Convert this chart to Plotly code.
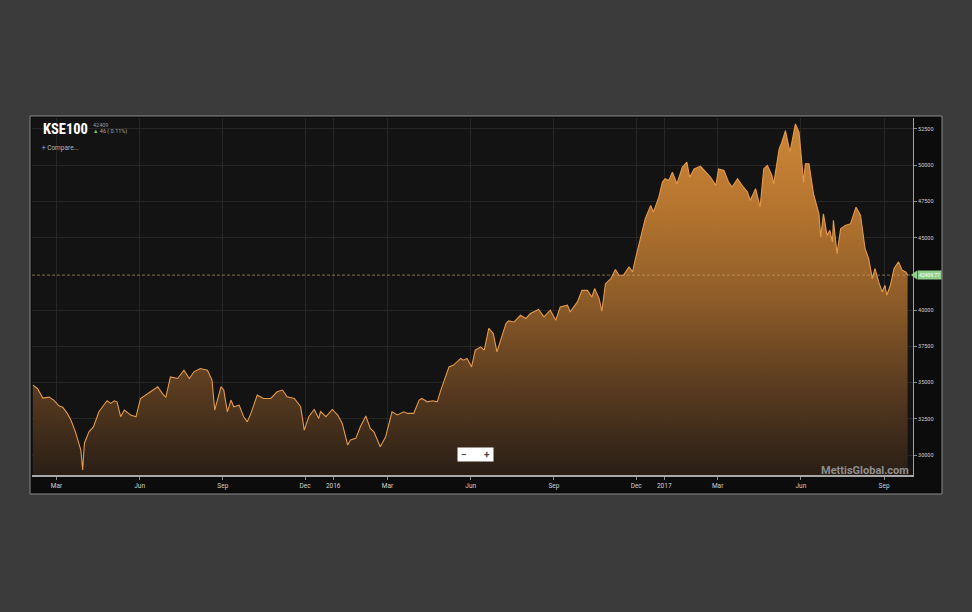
import plotly.graph_objects as go

# ---------------- data ----------------
dates_2015 = ["2015-02-03","2015-02-08","2015-02-14","2015-02-21","2015-02-26",
              "2015-03-04","2015-03-08","2015-03-13","2015-03-17","2015-03-22","2015-03-28","2015-03-30",
              "2015-04-01","2015-04-06","2015-04-11","2015-04-17","2015-04-21","2015-04-26","2015-04-30",
              "2015-05-04","2015-05-07","2015-05-11","2015-05-15","2015-05-22","2015-05-28",
              "2015-06-02","2015-06-13","2015-06-21","2015-06-26","2015-06-30",
              "2015-07-05","2015-07-13","2015-07-20","2015-07-26","2015-07-31",
              "2015-08-07","2015-08-15","2015-08-20","2015-08-23","2015-08-30",
              "2015-09-02","2015-09-06","2015-09-10","2015-09-13","2015-09-19","2015-09-24","2015-09-28",
              "2015-10-02","2015-10-09","2015-10-16","2015-10-24","2015-10-31",
              "2015-11-06","2015-11-11","2015-11-19","2015-11-26","2015-11-30",
              "2015-12-05","2015-12-11","2015-12-16","2015-12-18","2015-12-24","2015-12-31"]
close_2015 = [34820, 34590, 33930, 33990, 33790,
              33380, 33290, 32870, 32410, 31600, 30340, 28970,
              30830, 31600, 31950, 32980, 33330, 33740, 33560,
              33740, 33670, 32640, 33100, 32760, 32640,
              33900, 34360, 34710, 34250, 33970,
              35390, 35280, 35850, 35280, 35740,
              35970, 35850, 35170, 33100, 34710,
              34480, 32980, 33790, 33330, 33440, 32640, 32290,
              32870, 34130, 33900, 33900, 34360,
              34480, 34020, 33900, 33330, 31720,
              32640, 33140, 32520, 33000, 32640, 33140]

dates_2016 = ["2016-01-06","2016-01-11","2016-01-17","2016-01-20","2016-01-26","2016-01-31",
              "2016-02-06","2016-02-11","2016-02-15","2016-02-22","2016-02-28",
              "2016-03-06","2016-03-12","2016-03-19","2016-03-23","2016-03-30",
              "2016-04-05","2016-04-08","2016-04-14","2016-04-20","2016-04-25","2016-04-29",
              "2016-05-04","2016-05-08","2016-05-13","2016-05-21","2016-05-24","2016-05-28",
              "2016-06-02","2016-06-06","2016-06-12","2016-06-16","2016-06-21","2016-06-26","2016-06-30",
              "2016-07-04","2016-07-10","2016-07-13","2016-07-19","2016-07-26",
              "2016-08-01","2016-08-06","2016-08-15","2016-08-21","2016-08-28",
              "2016-09-03","2016-09-08","2016-09-16","2016-09-19","2016-09-27",
              "2016-10-02","2016-10-08","2016-10-13","2016-10-16","2016-10-21","2016-10-24","2016-10-28",
              "2016-11-03","2016-11-08","2016-11-12","2016-11-17","2016-11-23","2016-11-27","2016-11-30",
              "2016-12-06","2016-12-11","2016-12-17","2016-12-20","2016-12-26","2016-12-30"]
close_2016 = [32760, 32180, 30690, 31030, 31150, 31950,
              32690, 31840, 31600, 30570, 31260,
              32980, 32760, 32980, 32870, 32870,
              33790, 33900, 33670, 33740, 33670, 34480,
              35390, 36080, 36200, 36660, 36540, 36660,
              36080, 37230, 37460, 37230, 38730, 38380, 37120,
              37920, 39070, 39250, 39180, 39640,
              39420, 39760, 40040, 39530, 39990,
              39300, 40210, 40330, 39870, 40560,
              41360, 41360, 40900, 41480, 40790, 39920, 41820,
              42170, 42800, 42400, 42420, 42970, 42630, 43500,
              45150, 46300, 47220, 46760, 47790, 48830]

dates_2017 = ["2017-01-02","2017-01-06","2017-01-10","2017-01-15","2017-01-21","2017-01-26","2017-01-29",
              "2017-02-03","2017-02-10","2017-02-16","2017-02-21","2017-02-27",
              "2017-03-02","2017-03-08","2017-03-13","2017-03-17","2017-03-23","2017-03-28",
              "2017-04-03","2017-04-06","2017-04-12","2017-04-17","2017-04-21","2017-04-25","2017-04-30",
              "2017-05-02","2017-05-08","2017-05-11","2017-05-15","2017-05-20","2017-05-26","2017-05-30",
              "2017-06-04","2017-06-06","2017-06-10","2017-06-15","2017-06-21","2017-06-23","2017-06-26","2017-06-30",
              "2017-07-03","2017-07-06","2017-07-07","2017-07-11","2017-07-15","2017-07-20","2017-07-26",
              "2017-08-01","2017-08-06","2017-08-11","2017-08-15","2017-08-19","2017-08-22","2017-08-26","2017-08-30",
              "2017-09-02","2017-09-04","2017-09-08","2017-09-12","2017-09-17","2017-09-21","2017-09-25","2017-09-27"]
close_2017 = [49060, 48940, 49510, 48710, 49860, 50200, 49170,
              49740, 49920, 49510, 49170, 48600,
              49740, 49630, 48830, 48480, 49060, 48600,
              48140, 47560, 48370, 47100, 49740, 49970, 49280,
              48710, 51120, 51580, 52380, 50890, 52840, 52270,
              48830, 50090, 50090, 48020, 46640, 45040, 46640, 45150,
              45500, 44690, 46190, 43890, 45610, 45840, 45960,
              47100, 46530, 44230, 43550, 42170, 42860, 41940, 41250,
              41710, 41020, 41710, 42860, 43320, 42740, 42630, 42409.77]

x_tick_dates = ["2015-03-01","2015-06-01","2015-09-01","2015-12-01","2016-01-01",
                "2016-03-01","2016-06-01","2016-09-01","2016-12-01","2017-01-01",
                "2017-03-01","2017-06-01","2017-09-01"]
x_tick_labels = ["Mar","Jun","Sep","Dec","2016","Mar","Jun","Sep","Dec","2017","Mar","Jun","Sep"]
y_ticks = [30000, 32500, 35000, 37500, 40000, 45000, 47500, 50000, 52500]

index_name = "KSE100"
last_price = 42409.77
prev_label = "42409"
change_label = "46 ( 0.11%)"
watermark = "MettisGlobal.com"

dates = dates_2015 + dates_2016 + dates_2017
close = close_2015 + close_2016 + close_2017

# ---------------- layout helpers (pixel -> paper) ----------------
W, H = 972, 612
PL, PR, PT, PB = 32, 913, 118, 475
Y_MIN, Y_MAX = 28620, 53250
PAGE_BG = "#3b3b3b"


def px(x):
    return (x - PL) / (PR - PL)


def py(y):
    return (PB - y) / (PB - PT)


fig = go.Figure()
fig.add_trace(go.Scatter(
    x=dates, y=close, mode="lines",
    line=dict(color="#e39a4c", width=1.1),
    fill="tozeroy",
    fillgradient=dict(
        type="vertical",
        colorscale=[[0.0, "rgba(42,31,22,0.96)"], [0.25, "rgba(94,62,32,0.95)"],
                    [0.5, "rgba(150,97,42,0.95)"], [0.75, "rgba(188,121,48,0.96)"],
                    [1.0, "rgba(212,139,56,0.97)"]],
        start=Y_MIN, stop=Y_MAX),
    hoverinfo="skip",
))

shapes = [
    # outer chart frame
    dict(type="rect", xref="paper", yref="paper", x0=px(30), x1=px(942), y0=py(494), y1=py(116),
         fillcolor="#0c0c0c", line=dict(color="#8a8a8a", width=1), layer="below"),
    # plot area
    dict(type="rect", xref="paper", yref="paper", x0=0, x1=1, y0=0, y1=1,
         fillcolor="#131313", line=dict(width=0), layer="below"),
    # last price dashed line
    dict(type="line", xref="paper", yref="y", x0=0, x1=1, y0=last_price, y1=last_price,
         line=dict(color="rgba(205,170,125,0.6)", width=1, dash="3px,2px"), layer="above"),
    # price label arrow
    dict(type="path", xref="paper", yref="y", xsizemode="pixel", ysizemode="pixel",
         xanchor=px(911), yanchor=last_price, path="M 0,0 L 6,4.5 L 6,-4.5 Z",
         fillcolor="#8fcf8a", line=dict(width=0), layer="above"),
]

annotations = [
    dict(x=px(41), y=py(129), xref="paper", yref="paper", xanchor="left", yanchor="middle",
         text="<b>" + index_name + "</b>", showarrow=False,
         font=dict(family="Liberation Sans Narrow, Roboto Condensed, Arial Narrow, Roboto, sans-serif",
                   size=14.5, color="#ffffff")),
    dict(x=px(91), y=py(125), xref="paper", yref="paper", xanchor="left", yanchor="middle",
         text=prev_label, showarrow=False, font=dict(family="Roboto", size=5.5, color="#9a9a9a")),
    dict(x=px(91), y=py(131.5), xref="paper", yref="paper", xanchor="left", yanchor="middle",
         text="<span style='color:#7cc44a'>▲</span> " + change_label, showarrow=False,
         font=dict(family="Roboto", size=5.5, color="#a8a8a8")),
    dict(x=px(40), y=py(148), xref="paper", yref="paper", xanchor="left", yanchor="middle",
         text="<span style='color:#4f83d8'><b>+</b></span> Compare...", showarrow=False,
         font=dict(family="Roboto", size=6.5, color="#b5b5b5")),
    dict(x=px(911), y=py(470), xref="paper", yref="paper", xanchor="right", yanchor="middle",
         text="<b>" + watermark + "</b>", showarrow=False,
         font=dict(family="Roboto", size=11, color="#8e8e8e")),
    dict(x=px(475.5), y=py(454), xref="paper", yref="paper", xanchor="center", yanchor="middle",
         text="<b>−</b>       <b>+</b>", showarrow=False, bgcolor="#ffffff",
         width=35, height=13, borderpad=0,
         font=dict(family="Roboto", size=10, color="#4a4a4a")),
    dict(x=px(917), y=last_price, xref="paper", yref="y", xanchor="left", yanchor="middle",
         text=f"{last_price:.2f}", showarrow=False, bgcolor="#8fcf8a",
         width=23, height=8, borderpad=0,
         font=dict(family="Roboto", size=5, color="#ffffff")),
]

fig.update_layout(
    width=W, height=H,
    margin=dict(l=PL, r=W - PR, t=PT, b=H - PB),
    paper_bgcolor=PAGE_BG,
    plot_bgcolor="#131313",
    showlegend=False,
    shapes=shapes,
    annotations=annotations,
    xaxis=dict(
        type="date", range=["2015-02-02", "2017-10-03"],
        tickvals=x_tick_dates, ticktext=x_tick_labels,
        showgrid=True, gridcolor="#262626", gridwidth=1,
        ticks="outside", ticklen=3, tickcolor="#8a8a8a",
        tickfont=dict(family="Roboto", size=6.5, color="#d0d0d0"),
        showline=True, linecolor="#a8a8a8", linewidth=1.5,
        zeroline=False, fixedrange=True,
    ),
    yaxis=dict(
        side="right", range=[Y_MIN, Y_MAX],
        tickvals=y_ticks, ticktext=[str(v) for v in y_ticks],
        showgrid=True, gridcolor="#262626", gridwidth=1,
        ticks="outside", ticklen=3, tickcolor="#8a8a8a",
        tickfont=dict(family="Roboto", size=5.5, color="#cfcfcf"),
        showline=True, linecolor="#a0a0a0", linewidth=1,
        zeroline=False, fixedrange=True,
    ),
)

fig.write_html(
    "out.html",
    config={"displayModeBar": False},
    post_script=("document.body.style.margin='0';"
                 "document.body.style.background='" + PAGE_BG + "';"
                 "document.body.style.overflow='hidden';"),
)
